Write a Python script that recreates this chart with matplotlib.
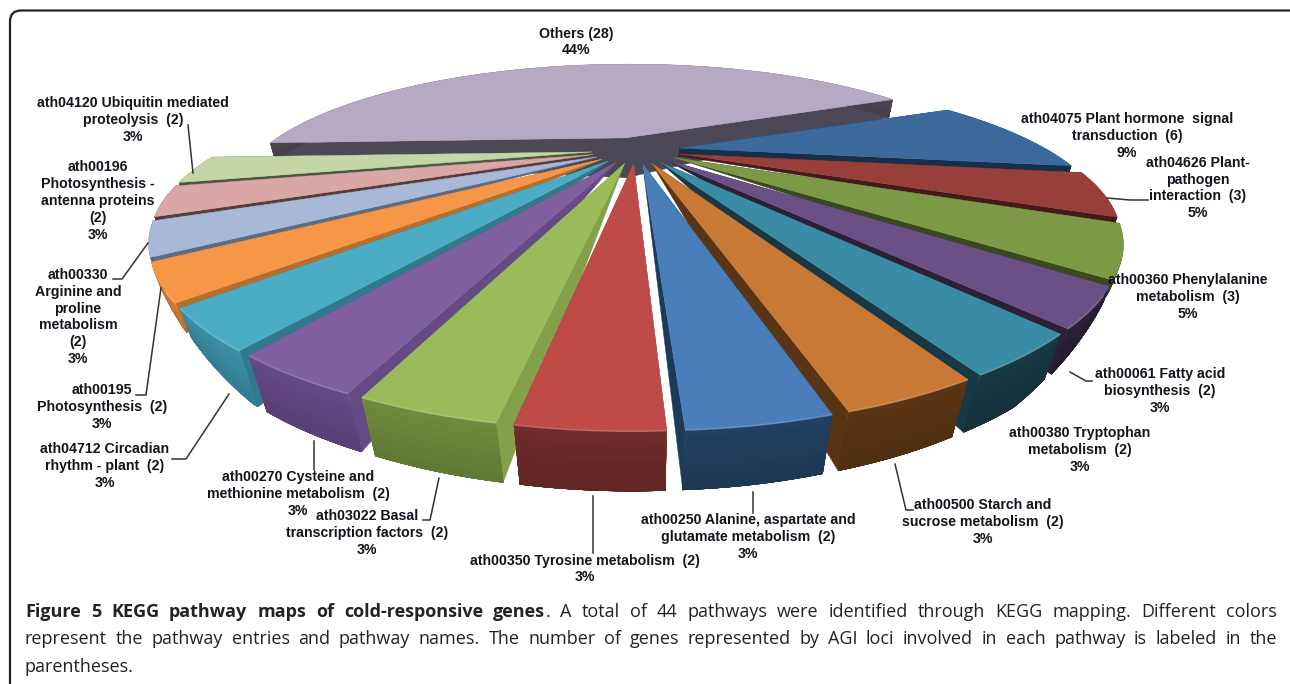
import numpy as np
import matplotlib
matplotlib.use("Agg")
import matplotlib.pyplot as plt
from matplotlib.patches import FancyBboxPatch, Polygon

# gene counts per KEGG pathway, clockwise from the big slice at the back
counts = [28, 6, 3, 3, 2, 2, 2, 2, 2, 2, 2, 2, 2, 2, 2, 2]
names = [
    "Others ({n})",
    "ath04075 Plant hormone  signal\ntransduction  ({n})",
    "ath04626 Plant-\npathogen\ninteraction  ({n})",
    "ath00360 Phenylalanine\nmetabolism  ({n})",
    "ath00061 Fatty acid\nbiosynthesis  ({n})",
    "ath00380 Tryptophan\nmetabolism  ({n})",
    "ath00500 Starch and\nsucrose metabolism  ({n})",
    "ath00250 Alanine, aspartate and\nglutamate metabolism  ({n})",
    "ath00350 Tyrosine metabolism  ({n})",
    "ath03022 Basal\ntranscription factors  ({n})",
    "ath00270 Cysteine and\nmethionine metabolism  ({n})",
    "ath04712 Circadian\nrhythm - plant  ({n})",
    "ath00195\nPhotosynthesis  ({n})",
    "ath00330\nArginine and\nproline\nmetabolism\n({n})",
    "ath00196\nPhotosynthesis -\nantenna proteins\n({n})",
    "ath04120 Ubiquitin mediated\nproteolysis  ({n})",
]

top_colors = ["#b5a9c4", "#3c6a9c", "#983f3c", "#7c9a45", "#6a5085", "#3a8ca5", "#c87935", "#4a7ebb",
              "#be4b48", "#9abb59", "#7f5fa0", "#4bacc6", "#f79646", "#a7b9d7", "#d8a7a6", "#c4d5a8"]
rim_colors = ["#4d4855", "#16304c", "#451b1a", "#3a4a20", "#2a2038", "#173844", "#5a3515", "#22405f",
              "#6f2c2a", "#6f8a3c", "#654a85", "#3a8ea6", "#d98036", "#5c6c85", "#5a3c3c", "#4a5a3a"]
side_colors = ["#4d4855", "#16304c", "#451b1a", "#3a4a20", "#2a2038", "#173844", "#5a3515", "#1d3a58",
               "#a04240", "#84a04a", "#654a85", "#307a8c", "#b46e2d", "#5c6c85", "#5a3c3c", "#4a5a3a"]

# label centres in pixels, same order as counts
label_xy = [(576, 42), (1127, 136), (1198, 188), (1188, 297), (1160, 391), (1080, 450), (983, 522),
            (748, 537), (585, 569), (367, 533), (298, 494), (105, 466), (102, 407), (78, 317),
            (98, 201), (133, 120)]

leaders = [
    [(1107, 198), (1130, 200), (1148, 200)],
    [(1070, 372), (1086, 381), (1092, 381)],
    [(895, 464), (906, 510), (913, 510)],
    [(753, 492), (753, 513)],
    [(593, 496), (593, 553)],
    [(439, 478), (430, 520), (423, 520)],
    [(314, 441), (314, 470)],
    [(229, 394), (186, 459), (172, 459)],
    [(161, 288), (146, 395), (136, 395)],
    [(148, 243), (122, 279), (113, 279)],
    [(188, 125), (193, 173)],
]

caption_bold = "Figure 5 KEGG pathway maps of cold-responsive genes"
caption_lines = [
    "A total of 44 pathways were identified through KEGG mapping. Different colors",
    "represent the pathway entries and pathway names. The number of genes represented by AGI loci involved in each pathway is labeled in the",
    "parentheses.",
]

# projection of the pie plane
cx, cy = 636, 150
ax_x, dist_x = 773, 2.1
ax_y, dist_y = 221, 2.0
explode = 0.12
start = 177.4
line_step = 16.8
cap_font = dict(family="Open Sans", fontsize=13)


def project(x, y):
    return cx + ax_x * x / (dist_x - y), cy + ax_y * y / (dist_y - y)


def wall_height(y):
    return np.interp(y, [0.0, 0.43, 0.67, 0.74, 0.85, 1.0], [6, 8, 15, 30, 56, 60])


def blend(c1, c2, f):
    a, b = np.array(matplotlib.colors.to_rgb(c1)), np.array(matplotlib.colors.to_rgb(c2))
    return tuple(a + (b - a) * f)


fig = plt.figure(figsize=(12.9, 6.84), dpi=100)
ax = fig.add_axes([0, 0, 1, 1])
ax.set_xlim(0, 1290)
ax.set_ylim(684, 0)
ax.axis("off")

frame = FancyBboxPatch((10, 10.5), 1295, 690, boxstyle="round,pad=0,rounding_size=11",
                       fc="white", ec="#222222", lw=1.6, zorder=0)
ax.add_patch(frame)

total = sum(counts)
sweeps = 360.0 * np.array(counts) / total
t0s = start + np.concatenate([[0], np.cumsum(sweeps)[:-1]])

# paint from the back of the plane to the front
mids = np.radians(t0s + sweeps / 2)
order = np.argsort(np.sin(mids))
z = 2
for i in order:
    mid = mids[i]
    ox, oy = explode * np.cos(mid), explode * np.sin(mid)
    ts = np.radians(np.linspace(t0s[i], t0s[i] + sweeps[i], 40))
    px, py = project(ox + np.cos(ts), oy + np.sin(ts))
    tx, ty = project(ox, oy)
    h = wall_height(np.sin(ts))
    tip_h = np.interp(np.sin(mid), [0.1, 0.4], [6, 0])
    if i == 0:
        # the back slice stands a bit taller than the plane gives it
        py = ty + (py - ty) * 1.1
        h, tip_h = np.full_like(ts, 18.0), 40
    bx = px - (px - cx) * 0.05 * (h / 60)
    by = py + h

    # radial walls, then the rim, then the top face
    for k in (0, -1):
        ax.add_patch(Polygon([(tx, ty), (px[k], py[k]), (bx[k], by[k]), (tx, ty + tip_h)],
                             closed=True, fc=side_colors[i], ec=side_colors[i], lw=0.3, zorder=z))
    # nested bands so the rim darkens towards its lower edge without seams
    bands = 8
    for b in range(bands):
        f0 = b / bands
        upper = np.column_stack([px + (bx - px) * f0, py + (by - py) * f0])
        lower = np.column_stack([bx, by])
        col = blend(rim_colors[i], "#000000", 0.14 * f0)
        ax.add_patch(Polygon(np.vstack([upper, lower[::-1]]), closed=True, fc=col, ec=col, lw=0.2, zorder=z))
    ax.add_patch(Polygon(np.vstack([[(tx, ty)], np.column_stack([px, py])]), closed=True,
                         fc=top_colors[i], ec=top_colors[i], lw=0.3, zorder=z))
    # soft bevel along the front rim
    front = np.sin(ts) > 0.7
    if front.any():
        ax.plot(px[front], py[front], color=blend(top_colors[i], "#ffffff", 0.2), lw=1.3, alpha=0.7,
                zorder=z, solid_capstyle="butt")
    z += 1

for pts in leaders:
    xs, ys = zip(*pts)
    ax.plot(xs, ys, color="#333333", lw=1.1, zorder=40, solid_joinstyle="miter")

# each label line is its own text so the line pitch stays fixed
for name, n, (lx, ly) in zip(names, counts, label_xy):
    pct = round(100 * n / total)
    rows = (name.format(n=n) + f"\n{pct}%").split("\n")
    for j, row in enumerate(rows):
        ax.text(lx, ly + line_step * (j - (len(rows) - 1) / 2), row, ha="center", va="center",
                family="Liberation Sans", fontweight="bold", fontsize=10.2, color="#14141e", zorder=50)

# caption, justified by hand word by word
fig.canvas.draw()
rend = fig.canvas.get_renderer()


def word_width(word, weight):
    t = ax.text(0, 0, word, fontweight=weight, **cap_font)
    w = t.get_window_extent(rend).width
    t.remove()
    return w


def draw_words(words, x0, x1, y):
    widths = [word_width(w, wt) for w, wt in words]
    gaps = sum(1 for w, _ in words[1:] if w != ".")
    gap = (x1 - x0 - sum(widths)) / max(gaps, 1) if x1 else 0
    x = x0
    for j, ((w, wt), wd) in enumerate(zip(words, widths)):
        ax.text(x, y, w, fontweight=wt, color="#222222", ha="left", va="center", zorder=50, **cap_font)
        x += wd
        if j + 1 < len(words) and words[j + 1][0] != ".":
            x += gap


first_words = [(w, "bold") for w in caption_bold.split()] + [(".", "normal")]
first_words += [(w, "normal") for w in caption_lines[0].split()]
draw_words(first_words, 25, 1277, 612)
draw_words([(w, "normal") for w in caption_lines[1].split()], 25, 1277, 639)
draw_words([(caption_lines[2], "normal")], 25, None, 667)

fig.savefig("out.png", dpi=100)
